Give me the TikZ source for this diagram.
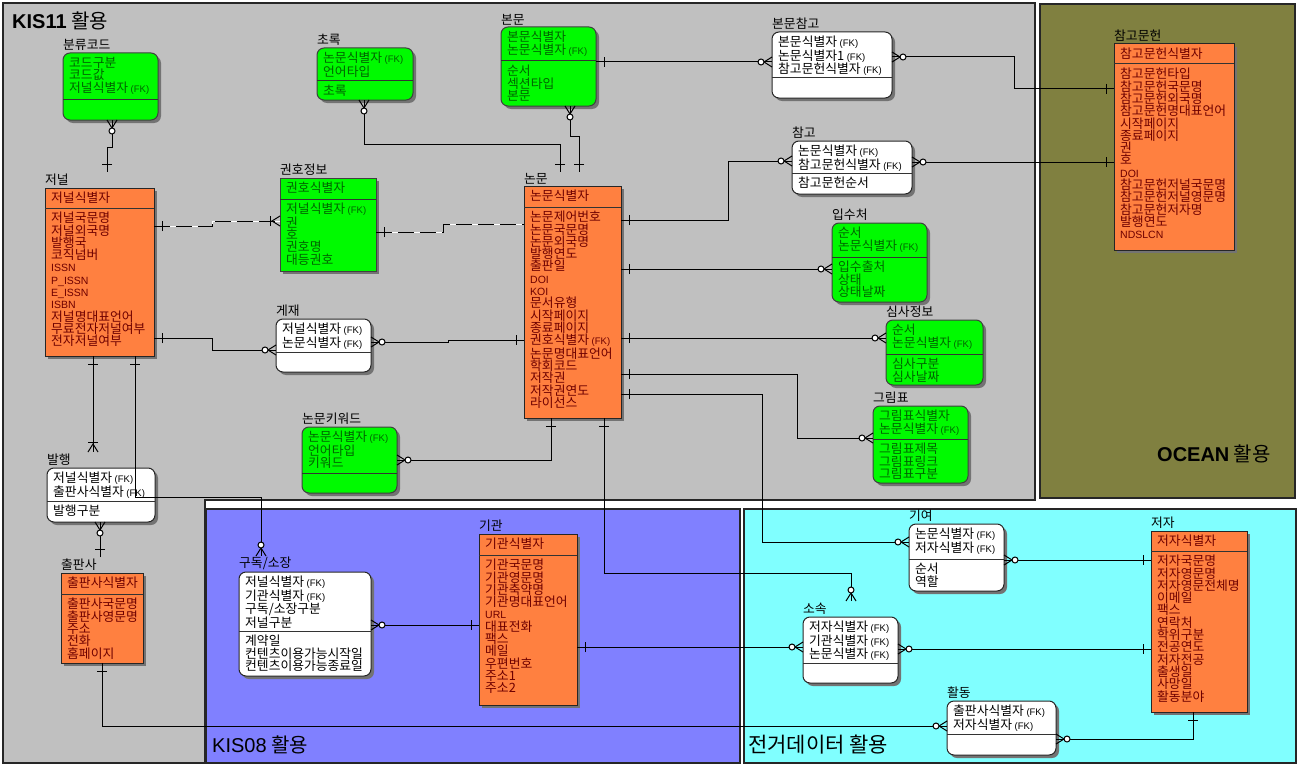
\documentclass[tikz,border=0pt]{standalone}
\usepackage{fontspec}
\setmainfont{Noto Sans CJK KR}
\newfontfamily\lat{Liberation Sans}
\usetikzlibrary{shadows}

\definecolor{kisgray}{RGB}{192,192,192}
\definecolor{oceanol}{RGB}{128,128,64}
\definecolor{kisblue}{RGB}{128,128,255}
\definecolor{authcyan}{RGB}{128,255,255}
\definecolor{entorg}{RGB}{255,128,64}
\definecolor{entgrn}{RGB}{0,250,0}
\definecolor{txtgrn}{RGB}{0,100,0}
\definecolor{txtred}{RGB}{110,0,0}

\newcommand{\fk}{{\lat\fontsize{9.5}{12.3}\selectfont\ (FK)}}
\newcommand{\latn}[1]{{\lat\fontsize{10.5}{12.3}\selectfont #1}}
% name, style, top-left, width, height, key part, title, keys, attributes
\newcommand{\erbox}[9]{%
  \node[#2,minimum width=#4pt,minimum height=#5pt,anchor=north west] (#1) at #3 {};
  \draw[divline] ([yshift=-#6pt]#1.north west) -- ([yshift=-#6pt]#1.north east);
  \node[etitle,anchor=south west] (#1-t) at ([yshift=2pt]#1.north west) {#7};
  \node[#2txt,anchor=north west] (#1-k) at ([xshift=6pt,yshift=-4pt]#1.north west) {#8};
  \node[#2txt,anchor=north west] (#1-a) at ([xshift=6pt,yshift=-#6pt-4pt]#1.north west) {#9};
}

\begin{document}
\begin{tikzpicture}[x=1pt,y=-1pt,
  region/.style={draw=black!85,line width=1.2pt},
  rlabel/.style={anchor=west,inner sep=0,font=\fontsize{20}{22}\selectfont},
  ebox/.style={line width=1pt,outer sep=0,inner sep=0,
    drop shadow={shadow xshift=3pt,shadow yshift=-3pt,fill=black!55,opacity=1}},
  org/.style={ebox,draw=black!85,fill=entorg},
  grn/.style={ebox,draw=black!75,fill=entgrn,rounded corners=7pt},
  grnsq/.style={ebox,draw=black!75,fill=entgrn},
  wht/.style={ebox,draw=black!85,fill=white,rounded corners=7pt},
  etxt/.style={inner sep=0,align=left,font=\fontsize{12.8}{12.3}\selectfont},
  orgtxt/.style={etxt,text=txtred},
  grntxt/.style={etxt,text=txtgrn},
  grnsqtxt/.style={grntxt},
  whttxt/.style={etxt,text=black},
  etitle/.style={inner sep=0,font=\fontsize{12.8}{13}\selectfont},
  divline/.style={draw=black!80,line width=1pt},
  rel/.style={draw=black,line width=1pt},
  nrel/.style={rel,dash pattern=on 16pt off 6pt,preaction={draw=white,solid}},
  one/.pic={\draw[solid,line width=1pt] (-8,-5) -- (-8,5);},
  zmany/.pic={\draw[solid,line width=1pt] (0,-5) -- (-8,0) -- (0,5);
    \draw[solid,line width=1pt,fill=white] (-11,0) circle (3pt);},
  bmany/.pic={\draw[solid,line width=1pt] (0,-5) -- (-8,0) -- (0,5);
    \draw[solid,line width=1pt] (-10,-5) -- (-10,5);}]
  \useasboundingbox (0,0) rectangle (1299,768);

  % subject areas
  \fill[white] (0,0) rectangle (1299,768);
  \draw[region,fill=kisgray] (3,3) -- (1035,3) -- (1035,500) -- (205,500) -- (205,763) -- (3,763) -- cycle;
  \draw[region,fill=oceanol] (1040,4) rectangle (1295,498);
  \draw[region,fill=kisblue] (206,509) rectangle (740,763);
  \draw[region,fill=authcyan] (744,509) rectangle (1296,763);
  \node[rlabel] (kis11) at (12,21) {{\lat\bfseries KIS11} 활용};
  \node[rlabel] (ocean) at (1157,454) {{\lat\bfseries OCEAN} 활용};
  \node[rlabel] (kis08) at (212,745) {{\lat KIS08} 활용};
  \node[rlabel,font=\fontsize{21}{23}\selectfont] (authority) at (748,745) {전거데이터 활용};

  % entities
  \erbox{clscode}{grn}{(63,53)}{95}{67}{46}{분류코드}{코드구분\\코드값\\저널식별자\fk}{}
  \erbox{abstr}{grn}{(317,48)}{96}{52}{33}{초록}{논문식별자\fk\\언어타입}{초록}
  \erbox{body}{grn}{(501,27)}{95}{79}{34}{본문}{본문식별자\\논문식별자\fk}{순서\\섹션타입\\본문}
  \erbox{bodyref}{wht}{(772,32)}{120}{66}{46}{본문참고}{본문식별자\fk\\논문식별자1\fk\\참고문헌식별자\fk}{}
  \erbox{cite}{wht}{(792,141)}{120}{53}{32}{참고}{논문식별자\fk\\참고문헌식별자\fk}{참고문헌순서}
  \erbox{refer}{org}{(1114,44)}{120}{206}{20}{참고문헌}{참고문헌식별자}{참고문헌타입\\참고문헌국문명\\참고문헌외국명\\참고문헌명대표언어\\시작페이지\\종료페이지\\권\\호\\\latn{DOI}\\참고문헌저널국문명\\참고문헌저널영문명\\참고문헌저자명\\발행연도\\\latn{NDSLCN}}
  \erbox{journal}{org}{(45,188)}{109}{168}{20}{저널}{저널식별자}{저널국문명\\저널외국명\\발행국\\코직넘버\\\latn{ISSN}\\\latn{P\_ISSN}\\\latn{E\_ISSN}\\\latn{ISBN}\\저널명대표언어\\무료전자저널여부\\전자저널여부}
  \erbox{volno}{grnsq}{(280,178)}{96}{93}{21}{권호정보}{권호식별자}{저널식별자\fk\\권\\호\\권호명\\대등권호}
  \erbox{paper}{org}{(524,186)}{97}{232}{21}{논문}{논문식별자}{논문제어번호\\논문국문명\\논문외국명\\발행연도\\출판일\\\latn{DOI}\\\latn{KOI}\\문서유형\\시작페이지\\종료페이지\\권호식별자\fk\\논문명대표언어\\학회코드\\저작권\\저작권연도\\라이선스}
  \erbox{source}{grn}{(832,223)}{95}{79}{34}{입수처}{순서\\논문식별자\fk}{입수출처\\상태\\상태날짜}
  \erbox{review}{grn}{(886,320)}{97}{65}{34}{심사정보}{순서\\논문식별자\fk}{심사구분\\심사날짜}
  \erbox{figtab}{grn}{(873,406)}{95}{77}{33}{그림표}{그림표식별자\\논문식별자\fk}{그림표제목\\그림표링크\\그림표구분}
  \erbox{carry}{wht}{(276,319)}{95}{53}{33}{게재}{저널식별자\fk\\논문식별자\fk}{}
  \erbox{kword}{grn}{(302,427)}{95}{66}{46}{논문키워드}{논문식별자\fk\\언어타입\\키워드}{}
  \erbox{issue}{wht}{(47,468)}{108}{54}{33}{발행}{저널식별자\fk\\출판사식별자\fk}{발행구분}
  \erbox{publ}{org}{(61,573)}{82}{90}{21}{출판사}{출판사식별자}{출판사국문명\\출판사영문명\\주소\\전화\\홈페이지}
  \erbox{subs}{wht}{(239,572)}{132}{104}{59}{구독/소장}{저널식별자\fk\\기관식별자\fk\\구독/소장구분\\저널구분}{계약일\\컨텐츠이용가능시작일\\컨텐츠이용가능종료일}
  \erbox{inst}{org}{(479,534)}{98}{171}{21}{기관}{기관식별자}{기관국문명\\기관영문명\\기관축약명\\기관명대표언어\\\latn{URL}\\대표전화\\팩스\\메일\\우편번호\\주소1\\주소2}
  \erbox{contrib}{wht}{(909,524)}{95}{67}{35}{기여}{논문식별자\fk\\저자식별자\fk}{순서\\역할}
  \erbox{author}{org}{(1151,531)}{96}{181}{20}{저자}{저자식별자}{저자국문명\\저자영문명\\저자영문전체명\\이메일\\팩스\\연락처\\학위구분\\전공연도\\저자전공\\출생일\\사망일\\활동분야}
  \erbox{affil}{wht}{(803,617)}{95}{66}{46}{소속}{저자식별자\fk\\기관식별자\fk\\논문식별자\fk}{}
  \erbox{activ}{wht}{(947,701)}{109}{54}{33}{활동}{출판사식별자\fk\\저자식별자\fk}{}

  % relationships
  \draw[rel] ([xshift=49pt]clscode.south west) coordinate (c1a) -- ++(0,27) -| ([xshift=62pt,yshift=16pt]journal.north west) coordinate (c1b);
  \draw[nrel] ([yshift=-38pt]journal.north east) coordinate (c2a) -- ++(58,0) |- ([yshift=-43pt]volno.north west) coordinate (c2b);
  \draw[nrel] ([yshift=-54pt]volno.north east) coordinate (c3a) -- ++(67,0) |- ([yshift=-38pt]paper.north west);
  \draw[rel] ([yshift=-150pt]journal.north east) coordinate (c4a) -- ++(58,0) |- ([yshift=-31pt]carry.north west) coordinate (c4b);
  \draw[rel] ([yshift=-154pt]paper.north west) coordinate (c5a) -- ++(-76,0) |- ([yshift=-23pt]carry.north east) coordinate (c5b);
  \draw[rel] ([xshift=47pt]abstr.south west) coordinate (c6a) -- ++(0,44) -| ([xshift=36pt,yshift=14pt]paper.north west) coordinate (c6b);
  \draw[rel] ([xshift=69pt]body.south west) coordinate (c7a) -- ++(0,30) -| ([xshift=55pt,yshift=14pt]paper.north west) coordinate (c7b);
  \draw[rel] ([yshift=-35pt]body.north east) coordinate (c8a) -- ([yshift=-30pt]bodyref.north west) coordinate (c8b);
  \draw[rel] ([yshift=-25pt]bodyref.north east) coordinate (c9a) -- ++(122,0) |- ([yshift=-45pt]refer.north west) coordinate (c9b);
  \draw[rel] ([yshift=-34pt]paper.north east) coordinate (c10a) -- ++(107,0) |- ([yshift=-20pt]cite.north west) coordinate (c10b);
  \draw[rel] ([yshift=-21pt]cite.north east) coordinate (c11a) -- ([yshift=-118pt]refer.north west) coordinate (c11b);
  \draw[rel] ([yshift=-83pt]paper.north east) coordinate (c12a) -- ([yshift=-46pt]source.north west) coordinate (c12b);
  \draw[rel] ([yshift=-152pt]paper.north east) coordinate (c13a) -- ([yshift=-18pt]review.north west) coordinate (c13b);
  \draw[rel] ([yshift=-188pt]paper.north east) coordinate (c14a) -- ++(176,0) |- ([yshift=-32pt]figtab.north west) coordinate (c14b);
  \draw[rel] ([yshift=-208pt]paper.north east) coordinate (c15a) -- ++(141,0) |- ([yshift=-18pt]contrib.north west) coordinate (c15b);
  \draw[rel] ([xshift=80pt]paper.south west) coordinate (c16a) -- ++(0,155) -| ([xshift=48pt,yshift=16pt]affil.north west) coordinate (c16b);
  \draw[rel] ([xshift=27pt]paper.south west) coordinate (c17a) |- ([yshift=-33pt]kword.north east) coordinate (c17b);
  \draw[rel] ([xshift=48pt]journal.south west) coordinate (c18a) -- ([xshift=46pt,yshift=16pt]issue.north west) coordinate (c18b);
  \draw[rel] ([xshift=39pt,yshift=16pt]publ.north west) coordinate (c19a) -- ([xshift=53pt]issue.south west) coordinate (c19b);
  \draw[rel] ([xshift=41pt]publ.south west) coordinate (c20a) |- ([yshift=-25pt]activ.north west) coordinate (c20b);
  \draw[rel] ([xshift=42pt]author.south west) coordinate (c21a) |- ([yshift=-38pt]activ.north east) coordinate (c21b);
  \draw[rel] ([yshift=-29pt]author.north west) coordinate (c22a) -- ([yshift=-36pt]contrib.north east) coordinate (c22b);
  \draw[rel] ([yshift=-118pt]author.north west) coordinate (c23a) -- ([yshift=-32pt]affil.north east) coordinate (c23b);
  \draw[rel] ([yshift=-113pt]inst.north east) coordinate (c24a) -- ([yshift=-30pt]affil.north west) coordinate (c24b);
  \draw[rel] ([yshift=-91pt]inst.north west) coordinate (c25a) -- ([yshift=-53pt]subs.north east) coordinate (c25b);
  \draw[rel] ([xshift=90pt]journal.south west) coordinate (c26a) -- ++(0,141) -| ([xshift=22pt,yshift=16pt]subs.north west) coordinate (c26b);

  % cardinality ends
  \pic[rotate=90] at (c1a) {zmany};
  \pic[rotate=-90] at (c1b) {one};
  \pic[rotate=180] at (c2a) {one};
  \pic at (c2b) {bmany};
  \pic[rotate=180] at (c3a) {one};
  \pic[rotate=180] at (c4a) {one};
  \pic at (c4b) {zmany};
  \pic at (c5a) {one};
  \pic[rotate=180] at (c5b) {zmany};
  \pic[rotate=90] at (c6a) {zmany};
  \pic[rotate=-90] at (c6b) {one};
  \pic[rotate=90] at (c7a) {zmany};
  \pic[rotate=-90] at (c7b) {one};
  \pic[rotate=180] at (c8a) {one};
  \pic at (c8b) {zmany};
  \pic[rotate=180] at (c9a) {zmany};
  \pic at (c9b) {one};
  \pic[rotate=180] at (c10a) {one};
  \pic at (c10b) {zmany};
  \pic[rotate=180] at (c11a) {zmany};
  \pic at (c11b) {one};
  \pic[rotate=180] at (c12a) {one};
  \pic at (c12b) {zmany};
  \pic[rotate=180] at (c13a) {one};
  \pic at (c13b) {zmany};
  \pic[rotate=180] at (c14a) {one};
  \pic at (c14b) {zmany};
  \pic[rotate=180] at (c15a) {one};
  \pic at (c15b) {zmany};
  \pic[rotate=90] at (c16a) {one};
  \pic[rotate=-90] at (c16b) {zmany};
  \pic[rotate=90] at (c17a) {one};
  \pic[rotate=180] at (c17b) {zmany};
  \pic[rotate=90] at (c18a) {one};
  \pic[rotate=-90] at (c18b) {bmany};
  \pic[rotate=-90] at (c19a) {one};
  \pic[rotate=90] at (c19b) {zmany};
  \pic[rotate=90] at (c20a) {one};
  \pic at (c20b) {zmany};
  \pic[rotate=90] at (c21a) {one};
  \pic[rotate=180] at (c21b) {zmany};
  \pic at (c22a) {one};
  \pic[rotate=180] at (c22b) {zmany};
  \pic at (c23a) {one};
  \pic[rotate=180] at (c23b) {zmany};
  \pic[rotate=180] at (c24a) {one};
  \pic at (c24b) {zmany};
  \pic at (c25a) {one};
  \pic[rotate=180] at (c25b) {zmany};
  \pic[rotate=90] at (c26a) {one};
  \pic[rotate=-90] at (c26b) {zmany};
\end{tikzpicture}
\end{document}
